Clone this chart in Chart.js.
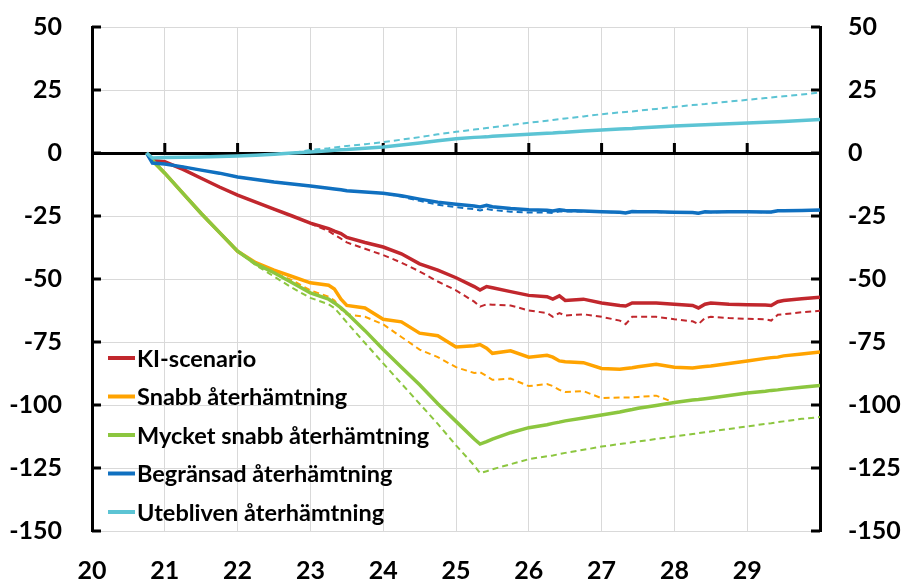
<!DOCTYPE html>
<html lang="sv">
<head>
<meta charset="utf-8">
<title>Scenarier</title>
<script src="https://cdn.jsdelivr.net/npm/chart.js@4.4.1/dist/chart.umd.min.js"></script>
<style>
  html, body { margin: 0; padding: 0; background: #fff; }
  #wrap { width: 904px; height: 581px; position: relative; }
</style>
</head>
<body>
<div id="wrap"><canvas id="scenarioChart"></canvas></div>
<script>
// Tidpunkter (år, 20 = 2020)
const years = [20.75, 20.83, 21, 21.25, 21.5, 21.75, 22, 22.25, 22.5, 22.75, 23, 23.25, 23.33, 23.42, 23.5, 23.75, 24, 24.25, 24.5, 24.75, 25, 25.25, 25.33, 25.42, 25.5, 25.75, 26, 26.25, 26.33, 26.42, 26.5, 26.75, 27, 27.25, 27.33, 27.42, 27.5, 27.75, 28, 28.25, 28.33, 28.42, 28.5, 28.75, 29, 29.25, 29.33, 29.42, 29.5, 29.75, 30];
const yTicks = [-150, -125, -100, -75, -50, -25, 0, 25, 50];
const xLabels = [20, 21, 22, 23, 24, 25, 26, 27, 28, 29];

// Heldragna serier
const kiScenario = [0, -3, -3.5, -6.5, -10, -13.5, -16.7, -19.5, -22.3, -25, -27.8, -30, -31, -32, -33.5, -35.5, -37.3, -40, -44, -46.5, -49.5, -53, -54.4, -53, -53.5, -55, -56.5, -57, -58, -56.7, -58.5, -58, -59.5, -60.5, -60.7, -59.5, -59.5, -59.5, -60, -60.5, -61.5, -60, -59.5, -60, -60.2, -60.3, -60.5, -59, -58.5, -57.8, -57.2];
const snabb = [0, -3, -8, -16, -24, -31.5, -39, -43.5, -46.5, -49, -51.5, -52.5, -54, -58, -60.5, -61.5, -66, -67, -71.5, -72.5, -77, -76.5, -76, -77.5, -79.5, -78.5, -81, -80.3, -81, -82.5, -82.8, -83.2, -85.5, -85.8, -85.5, -85.2, -84.8, -83.8, -85, -85.3, -85, -84.7, -84.5, -83.5, -82.5, -81.5, -81.2, -81, -80.5, -79.8, -79];
const mycketSnabb = [0, -3, -8, -16, -24, -31.5, -39, -44, -47.5, -51.5, -55.5, -58, -59.5, -61.5, -63.5, -70.5, -78, -85, -92, -99.5, -106.5, -113.5, -115.5, -114.5, -113.5, -111, -109, -107.8, -107.3, -106.8, -106.3, -105.2, -104, -102.8, -102.3, -101.8, -101.3, -100.2, -99, -98, -97.8, -97.5, -97.2, -96.2, -95.2, -94.5, -94.2, -94, -93.7, -93, -92.3];
const begransad = [0, -4, -4.4, -5.5, -6.8, -8, -9.5, -10.5, -11.5, -12.3, -13.1, -14, -14.3, -14.6, -15, -15.5, -16, -17, -18.3, -19.5, -20.3, -21, -21.4, -20.8, -21.3, -22, -22.5, -22.7, -23, -22.5, -22.8, -23, -23.3, -23.5, -23.8, -23.2, -23.3, -23.3, -23.5, -23.6, -23.9, -23.3, -23.4, -23.3, -23.3, -23.4, -23.4, -22.9, -22.9, -22.8, -22.6];
const utebliven = [0, -2, -1.8, -1.7, -1.6, -1.4, -1.2, -0.9, -0.5, 0, 0.4, 0.9, 1.1, 1.3, 1.4, 1.9, 2.4, 3.2, 4, 4.9, 5.7, 6.2, 6.3, 6.4, 6.6, 7, 7.4, 7.8, 7.9, 8.1, 8.2, 8.7, 9.1, 9.5, 9.6, 9.7, 9.9, 10.3, 10.7, 11, 11.1, 11.2, 11.3, 11.6, 11.9, 12.2, 12.3, 12.4, 12.5, 12.9, 13.3];

// Streckade serier
const kiDashed = [0, -3, -3.5, -6.5, -10, -13.5, -16.7, -19.5, -22.3, -25, -28, -31, -32.5, -34, -35.5, -38, -40.5, -43.5, -47, -51, -54.5, -59, -61, -60, -60.2, -60.5, -62.5, -63.5, -65, -63.5, -64.5, -64, -65, -66.5, -67.9, -65, -65, -65, -66, -66.8, -67.9, -65.5, -65, -65.5, -65.8, -66, -66.5, -64.2, -64, -63.2, -62.6];
const snabbDashed = [0, -3, -8, -16, -24, -31.5, -39, -44, -47.5, -50.5, -54.5, -57, -58.5, -62, -64, -65, -68, -73, -78, -81, -85, -87.3, -87, -88.5, -90, -89.5, -92.5, -91.7, -92.5, -94, -94.8, -94.5, -97.3, -97, -97, -97, -96.8, -96.3, -99, null, null, null, null, null, null, null, null, null, null, null, null];
const mycketDashed = [0, -3, -8, -16, -24, -31.5, -39, -44.5, -49, -53.5, -57.5, -60, -61.5, -64.5, -67.2, -75.4, -83.5, -91.5, -99.5, -107.5, -116, -124, -127, -126.3, -125.5, -123.5, -121.5, -120.3, -120, -119.5, -119, -117.8, -116.5, -115.5, -115.2, -114.8, -114.5, -113.5, -112.5, -111.5, -111.2, -110.8, -110.5, -109.5, -108.5, -107.5, -107.2, -106.8, -106.5, -105.5, -104.8];
const begransadDashed = [0, -4, -4.4, -5.5, -6.8, -8, -9.5, -10.5, -11.5, -12.3, -13.1, -14, -14.3, -14.6, -15, -15.5, -16, -17.3, -19, -20.5, -21.5, -22.3, -22.8, -22.2, -22.6, -23.3, -23.6, -23.6, -23.8, -23.2, -23.2, -23.2, -23.4, -23.6, -23.9, -23.3, -23.4, -23.4, -23.6, -23.7, -24, -23.4, -23.5, -23.4, -23.4, -23.5, -23.5, -23, -23, -22.9, -22.7];
const uteblivenDashed = [0, -2, -1.8, -1.7, -1.6, -1.4, -1.2, -0.9, -0.5, 0, 1.2, 1.9, 2.2, 2.5, 2.8, 3.5, 4.3, 5.3, 6.3, 7.4, 8.4, 9.3, 9.6, 9.9, 10.2, 11.1, 12, 12.8, 13.1, 13.4, 13.7, 14.5, 15.4, 16.1, 16.3, 16.5, 16.8, 17.5, 18.3, 19, 19.2, 19.4, 19.7, 20.4, 21.1, 21.8, 22, 22.3, 22.5, 23.2, 24];

const RED = '#C1272D', ORANGE = '#FFA300', GREEN = '#8CC63F', BLUE = '#1070C0', CYAN = '#5CC4D4';
const FONT = 'Lato';

function line(label, values, color, dashed, order) {
    return {
        label: label,
        dashed: dashed,
        data: values.map((v, i) => ({ x: years[i], y: v })),
        borderColor: color,
        backgroundColor: color,
        borderWidth: dashed ? 2 : 3.5,
        borderDash: dashed ? [6, 4] : [],
        pointRadius: 0,
        tension: 0,
        fill: false,
        spanGaps: false,
        order: order
    };
}

// Legend inne i diagrammet, nere till vänster
const insideLegend = {
    id: 'insideLegend',
    afterDatasetsDraw(chart) {
        const { ctx, chartArea } = chart;
        const items = chart.data.datasets.filter(d => !d.dashed);
        ctx.save();
        ctx.font = 'bold 23.5px ' + FONT;
        ctx.textBaseline = 'middle';
        items.forEach((d, i) => {
            const x = chartArea.left + 16;
            const y = chartArea.bottom - 173 + i * 38.5;
            ctx.strokeStyle = d.borderColor;
            ctx.lineWidth = 4;
            ctx.beginPath();
            ctx.moveTo(x, y);
            ctx.lineTo(x + 27, y);
            ctx.stroke();
            ctx.fillStyle = '#000';
            ctx.fillText(d.label, x + 29, y + 1);
        });
        ctx.restore();
    }
};

// Inåtriktade skalstreck på axlarna och på nollinjen
const axisTicks = {
    id: 'axisTicks',
    beforeDatasetsDraw(chart) {
        const { ctx, chartArea, scales } = chart;
        ctx.save();
        ctx.strokeStyle = '#000';
        ctx.lineWidth = 3;
        ctx.beginPath();
        yTicks.forEach(v => {
            const py = scales.y.getPixelForValue(v);
            ctx.moveTo(chartArea.left, py);
            ctx.lineTo(chartArea.left + 9, py);
            ctx.moveTo(chartArea.right, py);
            ctx.lineTo(chartArea.right - 9, py);
        });
        const y0 = scales.y.getPixelForValue(0);
        xLabels.forEach(v => {
            if (v === 20) return;
            const px = scales.x.getPixelForValue(v);
            ctx.moveTo(px, y0);
            ctx.lineTo(px, y0 - 10);
        });
        ctx.stroke();
        ctx.restore();
    }
};

const tickFont = { family: FONT, size: 25, weight: 'bold' };

function fixWidth(w) {
    return function (scale) {
        scale.width = w;
        scale.paddingTop = 0;
        scale.paddingBottom = 0;
    };
}

new Chart(document.getElementById('scenarioChart'), {
    type: 'line',
    data: {
        datasets: [
            line('KI-scenario', kiScenario, RED, false, 4),
            line('Snabb återhämtning', snabb, ORANGE, false, 3),
            line('Mycket snabb återhämtning', mycketSnabb, GREEN, false, 2),
            line('Begränsad återhämtning', begransad, BLUE, false, 1),
            line('Utebliven återhämtning', utebliven, CYAN, false, 0),
            line('KI-scenario (alt)', kiDashed, RED, true, 9),
            line('Snabb (alt)', snabbDashed, ORANGE, true, 8),
            line('Mycket snabb (alt)', mycketDashed, GREEN, true, 7),
            line('Begränsad (alt)', begransadDashed, BLUE, true, 6),
            line('Utebliven (alt)', uteblivenDashed, CYAN, true, 5)
        ]
    },
    options: {
        responsive: true,
        maintainAspectRatio: false,
        animation: false,
        layout: { padding: { top: 27, left: 0, right: 0, bottom: 0 } },
        plugins: {
            legend: { display: false },
            tooltip: { enabled: false }
        },
        scales: {
            x: {
                type: 'linear',
                min: 20,
                max: 30,
                border: { display: false },
                grid: { color: '#D9D9D9', lineWidth: 1, drawTicks: false },
                ticks: {
                    stepSize: 1,
                    padding: 25,
                    color: '#000',
                    font: tickFont,
                    maxRotation: 0,
                    callback: v => xLabels.includes(v) ? String(v) : ''
                },
                afterFit(scale) { scale.height = 50; }
            },
            y: {
                position: 'left',
                min: -150,
                max: 50,
                border: { display: true, color: '#000', width: 3 },
                grid: {
                    drawTicks: false,
                    color: c => c.tick && c.tick.value === 0 ? '#000' : '#D9D9D9',
                    lineWidth: c => c.tick && c.tick.value === 0 ? 3 : 1
                },
                ticks: { stepSize: 25, padding: 30, color: '#000', font: tickFont },
                afterFit: fixWidth(92)
            },
            y2: {
                position: 'right',
                min: -150,
                max: 50,
                border: { display: true, color: '#000', width: 3 },
                grid: { display: false, drawTicks: false },
                ticks: { stepSize: 25, padding: 28, color: '#000', font: tickFont },
                afterFit: fixWidth(84)
            }
        }
    },
    plugins: [axisTicks, insideLegend]
});
</script>
</body>
</html>
